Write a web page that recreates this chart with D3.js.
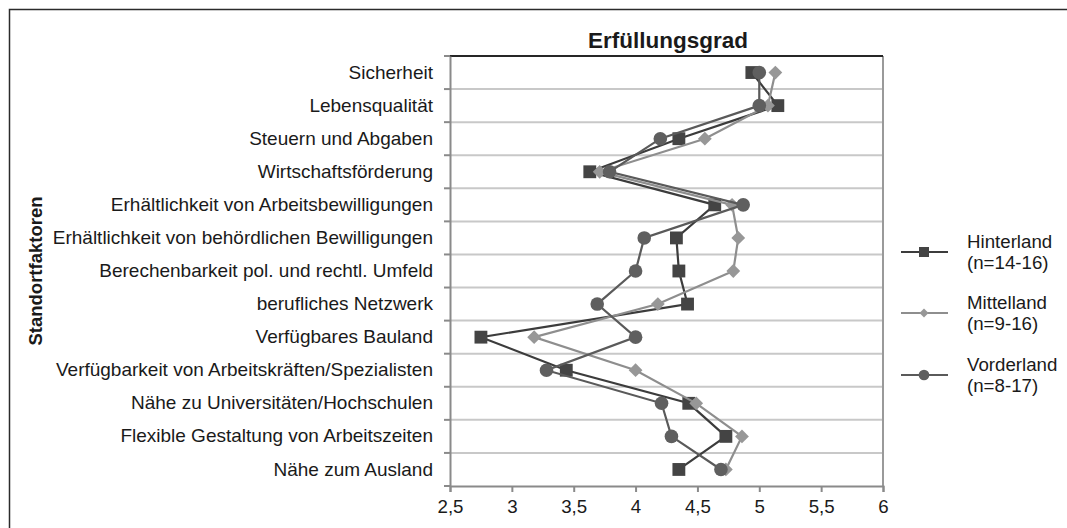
<!DOCTYPE html>
<html>
<head>
<meta charset="utf-8">
<script src="https://cdn.jsdelivr.net/npm/d3@7"></script>
<style>
	body{margin:0;background:#fff;}
	text{font-family:"Liberation Sans",Arial,sans-serif;fill:#1a1a1a;}
</style>
</head>
<body>
<div id="chart"></div>
<script>
var categories = ['Sicherheit','Lebensqualität','Steuern und Abgaben','Wirtschaftsförderung',
	'Erhältlichkeit von Arbeitsbewilligungen','Erhältlichkeit von behördlichen Bewilligungen',
	'Berechenbarkeit pol. und rechtl. Umfeld','berufliches Netzwerk','Verfügbares Bauland',
	'Verfügbarkeit von Arbeitskräften/Spezialisten','Nähe zu Universitäten/Hochschulen',
	'Flexible Gestaltung von Arbeitszeiten','Nähe zum Ausland'];

var hinterland = [4.94,5.15,4.35,3.63,4.64,4.33,4.35,4.42,2.75,3.44,4.43,4.73,4.35];
var mittelland = [5.13,5.07,4.56,3.71,4.78,4.83,4.79,4.18,3.18,4.00,4.49,4.86,4.73];
var vorderland = [5.00,5.00,4.20,3.79,4.87,4.07,4.00,3.69,4.00,3.28,4.21,4.29,4.69];

var xTicks = [2.5,3,3.5,4,4.5,5,5.5,6];
var seriesNames = ['Hinterland','Mittelland','Vorderland'];
var seriesNotes = ['(n=14-16)','(n=9-16)','(n=8-17)'];

var W = 1067, H = 528;
var pLeft = 450, pRight = 883, pTop = 56, pBottom = 486;
var fs = '18.7px';

var svg = d3.select('#chart').append('svg')
			.attr('width',W)
			.attr('height',H);

// outer frame (only left/top visible)
svg.append('path')
	.attr('d','M9.5,' + (H+5) + 'V9.5H' + (W+5))
	.attr('fill','none')
	.attr('stroke','#2b2b2b')
	.attr('stroke-width',1.5);

var x = d3.scaleLinear().domain([2.5,6]).range([pLeft,pRight]);
var y = d3.scaleBand().domain(categories).range([pTop,pBottom]);

// grid lines between categories
var bounds = categories.map(function(c){ return y(c); }).slice(1);
svg.append('g').selectAll('line')
	.data(bounds)
	.enter().append('line')
	.attr('x1',pLeft).attr('x2',pRight)
	.attr('y1',function(d){ return d; })
	.attr('y2',function(d){ return d; })
	.attr('stroke','#c8c8c8')
	.attr('stroke-width',2);

// plot frame
svg.append('line').attr('x1',pRight).attr('x2',pRight).attr('y1',pTop).attr('y2',pBottom)
	.attr('stroke','#9a9a9a').attr('stroke-width',2);
svg.append('line').attr('x1',pLeft).attr('x2',pRight).attr('y1',pTop).attr('y2',pTop)
	.attr('stroke','#262626').attr('stroke-width',2);

// y axis
var yAxis = svg.append('g')
			.attr('transform','translate(' + pLeft + ',0)')
			.call(d3.axisLeft(y).tickSize(0).tickPadding(17));
yAxis.select('.domain').attr('stroke','#8a8a8a').attr('stroke-width',2);
yAxis.selectAll('text').style('font-size','19px').attr('fill','#1a1a1a');
svg.append('g').selectAll('line')
	.data(bounds.concat([pTop,pBottom]))
	.enter().append('line')
	.attr('x1',pLeft-6).attr('x2',pLeft)
	.attr('y1',function(d){ return d; })
	.attr('y2',function(d){ return d; })
	.attr('stroke','#8a8a8a').attr('stroke-width',2);

// x axis
var xAxis = svg.append('g')
			.attr('transform','translate(0,' + pBottom + ')')
			.call(d3.axisBottom(x).tickValues(xTicks).tickSize(6).tickPadding(8)
				.tickFormat(function(d){ return String(d).replace('.',','); }));
xAxis.select('.domain').attr('stroke','#8a8a8a').attr('stroke-width',2);
xAxis.selectAll('.tick line').attr('stroke','#8a8a8a').attr('stroke-width',2);
xAxis.selectAll('text').style('font-size',fs).attr('fill','#1a1a1a');

// titles
svg.append('text')
	.attr('x',668).attr('y',48)
	.attr('text-anchor','middle')
	.style('font-size','22.5px').style('font-weight','bold')
	.text('Erfüllungsgrad');
svg.append('text')
	.attr('transform','translate(42,271) rotate(-90)')
	.attr('text-anchor','middle')
	.style('font-size','18.5px').style('font-weight','bold')
	.text('Standortfaktoren');

var series = [
	{name:'Hinterland', values:hinterland, color:'#3c3c3c', mcolor:'#444', shape:d3.symbolSquare, size:165, rot:0, lsize:100},
	{name:'Mittelland', values:mittelland, color:'#8e8e8e', mcolor:'#979797', shape:d3.symbolSquare, size:95, rot:45, lsize:40},
	{name:'Vorderland', values:vorderland, color:'#5a5a5a', mcolor:'#5f5f5f', shape:d3.symbolCircle, size:145, rot:0, lsize:90}
];

var line = d3.line()
			.x(function(d){ return x(d.v); })
			.y(function(d){ return y(d.c) + y.bandwidth()/2; });

series.forEach(function(s){
	var pts = s.values.map(function(v,i){ return {c:categories[i],v:v}; });
	svg.append('path')
		.datum(pts)
		.attr('d',line)
		.attr('fill','none')
		.attr('stroke',s.color)
		.attr('stroke-width',2.2);
	svg.append('g').selectAll('path')
		.data(pts)
		.enter().append('path')
		.attr('d',d3.symbol().type(s.shape).size(s.size))
		.attr('transform',function(d){ return 'translate(' + x(d.v) + ',' + (y(d.c)+y.bandwidth()/2) + ') rotate(' + s.rot + ')'; })
		.attr('fill',s.mcolor);
});

// legend
var legend = svg.append('g');
var ly = [252,313,375];
series.forEach(function(s,i){
	var g = legend.append('g').attr('transform','translate(0,' + ly[i] + ')');
	g.append('line').attr('x1',901).attr('x2',948).attr('y1',0).attr('y2',0)
		.attr('stroke',s.color).attr('stroke-width',2.2);
	g.append('path')
		.attr('d',d3.symbol().type(s.shape).size(s.lsize))
		.attr('transform','translate(924,0) rotate(' + s.rot + ')')
		.attr('fill',s.mcolor);
	g.append('text').attr('x',967).attr('y',-4).style('font-size',fs).text(seriesNames[i]);
	g.append('text').attr('x',967).attr('y',17).style('font-size',fs).text(seriesNotes[i]);
});
</script>
</body>
</html>
